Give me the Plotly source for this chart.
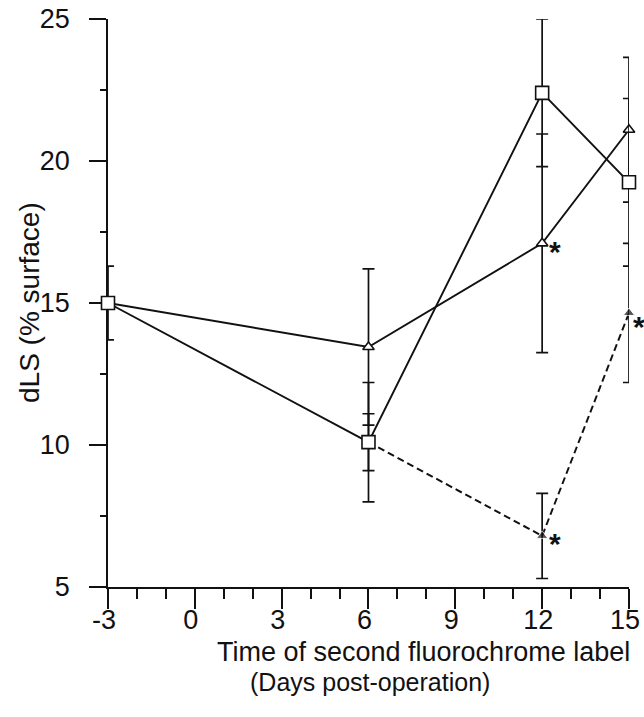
import plotly.graph_objects as go

# Days at which the second label was given
days = [-3, 6, 12, 15]

# Series drawn with open squares (solid line)
square_vals = [15.0, 10.1, 22.4, 19.25]
square_err = [1.3, 2.1, 2.6, 2.95]

# Series drawn with open triangles (solid line)
tri_vals = [15.0, 13.45, 17.1, 21.1]
tri_err = [0.0, 2.75, 3.85, 2.55]

# Series drawn with filled arrowheads (dashed line), starting from the day-6 square
dash_days = [6, 12, 15]
dash_vals = [10.1, 6.8, 14.65]
dash_err = [1.0, 1.5, 2.45]

# Points flagged as significant
star_days = [12, 12, 15]
star_vals = [17.1, 6.8, 14.65]
star_shift = [(13, -8), (13, -8), (10, -14)]

x_ticks = [-3, 0, 3, 6, 9, 12, 15]
y_ticks = [5, 10, 15, 20, 25]
y_minor = [7.5, 12.5, 17.5, 22.5]

FONT = "Liberation Sans, Arial, Helvetica, sans-serif"
INK = "#111111"


def err(vals):
    return dict(type="data", array=vals, visible=True, color=INK,
                thickness=1.7, width=6)


fig = go.Figure()

fig.add_trace(go.Scatter(
    x=dash_days, y=dash_vals, mode="lines+markers",
    line=dict(color=INK, width=2, dash="7px,4px"),
    marker=dict(symbol="triangle-up", size=[0, 10, 10], color=INK),
    error_y=err(dash_err), cliponaxis=False, showlegend=False,
))

fig.add_trace(go.Scatter(
    x=days, y=tri_vals, mode="lines+markers",
    line=dict(color=INK, width=1.9),
    marker=dict(symbol="triangle-up", size=10, color="white",
                line=dict(color=INK, width=1.6)),
    error_y=err(tri_err), cliponaxis=False, showlegend=False,
))

fig.add_trace(go.Scatter(
    x=days, y=square_vals, mode="lines+markers",
    line=dict(color=INK, width=1.9),
    marker=dict(symbol="square", size=13, color="white",
                line=dict(color=INK, width=1.6)),
    error_y=err(square_err), cliponaxis=False, showlegend=False,
))

annotations = []
for xd, yv, (dx, dy) in zip(star_days, star_vals, star_shift):
    annotations.append(dict(
        x=xd, y=yv, xref="x", yref="y", text="<b>*</b>", showarrow=False,
        xshift=dx, yshift=dy, font=dict(family=FONT, size=30, color=INK),
    ))

annotations += [
    dict(text="Time of second fluorochrome label", xref="paper", yref="paper",
         x=0.6065, y=-0.114, xanchor="center", yanchor="middle",
         showarrow=False, font=dict(family=FONT, size=27, color=INK)),
    dict(text="(Days post-operation)", xref="paper", yref="paper",
         x=0.502, y=-0.167, xanchor="center", yanchor="middle",
         showarrow=False, font=dict(family=FONT, size=25, color=INK)),
    dict(text="dLS (% surface)", xref="paper", yref="paper",
         x=-0.1516, y=0.5, xanchor="center", yanchor="middle", textangle=-90,
         showarrow=False, font=dict(family=FONT, size=28, color=INK)),
]

fig.update_layout(
    width=644, height=717,
    margin=dict(l=108, r=15, t=19, b=130),
    paper_bgcolor="white", plot_bgcolor="white",
    font=dict(family=FONT, color=INK),
    annotations=annotations,
)

fig.update_xaxes(
    range=[-3, 15.0005], tickvals=x_ticks, ticktext=[str(v) for v in x_ticks],
    ticks="outside", ticklen=20, tickwidth=1.7, tickcolor=INK,
    showline=True, linecolor=INK, linewidth=1.7, showgrid=False,
    zeroline=False, tickfont=dict(family=FONT, size=27, color=INK),
    minor=dict(dtick=1, tick0=0, ticks="outside", ticklen=10,
               tickwidth=1.7, tickcolor=INK, showgrid=False),
    ticklabelstandoff=-12, ticklabelshift=-4,
    ticklabeloverflow="allow", automargin=False,
    layer="below traces",
)

fig.update_yaxes(
    range=[5, 25], tickvals=y_ticks,
    ticks="outside", ticklen=17, tickwidth=1.7, tickcolor=INK,
    showline=True, linecolor=INK, linewidth=1.7, showgrid=False,
    zeroline=False, tickfont=dict(family=FONT, size=27, color=INK),
    minor=dict(tickvals=y_minor, ticks="outside", ticklen=6,
               tickwidth=1.7, tickcolor=INK, showgrid=False),
    ticklabelstandoff=14, automargin=False,
    layer="below traces",
)

fig.write_html("out.html")
